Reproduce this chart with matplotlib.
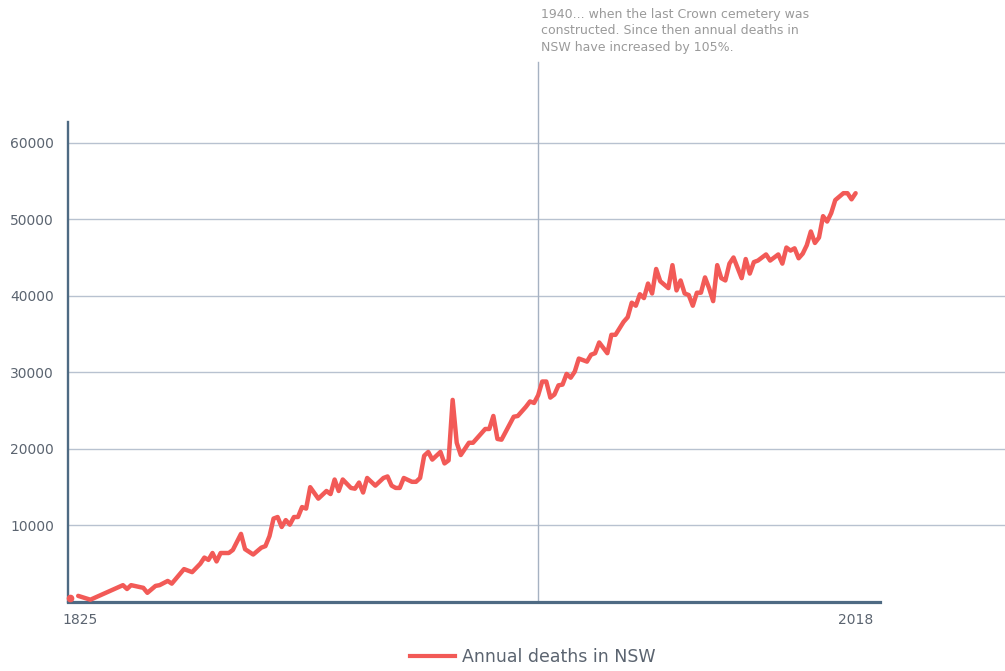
import numpy as np
import matplotlib
matplotlib.use('Agg')
import matplotlib.pyplot as plt
import matplotlib.transforms as mtransforms
from matplotlib.lines import Line2D

# Annual deaths in NSW (1826 is missing)
years = [1825, 1827, 1830, 1838, 1839, 1840, 1843, 1844, 1846, 1847, 1849, 1850,
         1853, 1855, 1857, 1858, 1859, 1860, 1861, 1862, 1864, 1865, 1867, 1868,
         1870, 1872, 1873, 1874, 1875, 1876, 1877, 1878, 1879, 1880, 1881, 1882,
         1883, 1884, 1886, 1888, 1889, 1890, 1891, 1892, 1894, 1895, 1896, 1897,
         1898, 1900, 1902, 1903, 1904, 1905, 1906, 1907, 1909, 1910, 1911, 1912,
         1913, 1914, 1916, 1917, 1918, 1919, 1920, 1921, 1923, 1924, 1926, 1927,
         1928, 1929, 1930, 1931, 1934, 1935, 1937, 1938, 1939, 1940, 1941, 1942,
         1943, 1944, 1945, 1946, 1947, 1948, 1949, 1950, 1952, 1953, 1954, 1955,
         1957, 1958, 1959, 1961, 1962, 1963, 1964, 1965, 1966, 1967, 1968, 1969,
         1970, 1972, 1973, 1974, 1975, 1976, 1977, 1978, 1979, 1980, 1981, 1982,
         1983, 1984, 1985, 1986, 1987, 1988, 1990, 1991, 1992, 1993, 1994, 1996,
         1997, 1998, 1999, 2000, 2001, 2002, 2003, 2004, 2005, 2006, 2007, 2008,
         2009, 2010, 2011, 2012, 2013, 2015, 2016, 2017, 2018]
deaths = [500, 800, 300, 2200, 1700, 2200, 1850, 1200, 2100, 2200, 2750, 2400,
          4300, 3900, 5000, 5800, 5500, 6400, 5300, 6400, 6400, 6800, 8900, 6900,
          6200, 7100, 7300, 8600, 10900, 11100, 9800, 10700, 10100, 11100, 11100, 12400,
          12200, 15000, 13500, 14500, 14100, 16000, 14500, 16000, 14900, 14800, 15600, 14300,
          16200, 15200, 16200, 16400, 15200, 14900, 14900, 16200, 15700, 15700, 16200, 19100,
          19600, 18600, 19600, 18100, 18500, 26400, 20800, 19200, 20800, 20800, 22000, 22600,
          22600, 24300, 21300, 21200, 24200, 24300, 25500, 26200, 26000, 27000, 28800, 28800,
          26700, 27100, 28300, 28400, 29800, 29300, 30100, 31800, 31400, 32300, 32500, 33900,
          32500, 34900, 34900, 36600, 37200, 39100, 38700, 40200, 39700, 41600, 40300, 43500,
          41900, 41000, 44000, 40700, 42000, 40300, 40100, 38700, 40400, 40400, 42400, 41000,
          39300, 44000, 42300, 42000, 44200, 45000, 42300, 44800, 42900, 44400, 44600, 45400,
          44600, 45000, 45400, 44200, 46300, 45900, 46200, 44900, 45500, 46600, 48400, 46900,
          47600, 50400, 49700, 50800, 52500, 53400, 53400, 52600, 53400]

y_ticks = [10000, 20000, 30000, 40000, 50000, 60000]
x_ticks = [1825, 2018]
note_year = 1940
note = ("1940... when the last Crown cemetery was\n"
        "constructed. Since then annual deaths in\n"
        "NSW have increased by 105%.")

# 1826 is missing, so the first year stands on its own
yrs = np.array(years, dtype=float)
vals = np.array(deaths, dtype=float)
yrs = np.insert(yrs, 1, 1826)
vals = np.insert(vals, 1, np.nan)

W, H = 1005, 671
fig = plt.figure(figsize=(W / 100, H / 100), dpi=100)
ax = fig.add_axes([68 / W, (H - 602) / H, 1 - 68 / W, (602 - 122) / H])

line_color = '#f25a57'
axis_color = '#4e6a83'
text_color = '#5b6470'

ax.plot(yrs, vals, color=line_color, lw=3.2, solid_joinstyle='round',
        solid_capstyle='round', zorder=3)
ax.plot(yrs[:1], vals[:1], 'o', color=line_color, ms=4.5, zorder=3, clip_on=False)

ax.set_xlim(1824.5, 2054.7)
ax.set_ylim(0, 62700)

ax.set_yticks(y_ticks)
ax.set_yticklabels([str(v) for v in y_ticks])
ax.set_xticks(x_ticks)
ax.set_xticklabels([str(v) for v in x_ticks])
ax.tick_params(length=0, labelsize=10, labelcolor=text_color)
ax.tick_params(axis='y', pad=10)
ax.tick_params(axis='x', pad=8)
first = ax.get_xticklabels()[0]
first.set_transform(first.get_transform() + mtransforms.ScaledTranslation(10 / 100, 0, fig.dpi_scale_trans))

ax.grid(axis='y', color='#b8c2d0', lw=1)
ax.set_axisbelow(True)

for s in ['top', 'right']:
    ax.spines[s].set_visible(False)
ax.spines['left'].set_color(axis_color)
ax.spines['left'].set_linewidth(1.7)
ax.spines['bottom'].set_color(axis_color)
ax.spines['bottom'].set_linewidth(2.3)
ax.spines['bottom'].set_bounds(1824.5, 2024)

# 1940 marker line and note
ax.plot([note_year, note_year], [0, 70500], color='#a6b2c2', lw=1, clip_on=False, zorder=1)
fig.text(541 / W, 1 - 8 / H, note, color='#9a9a9a', fontsize=9, va='top', ha='left',
         linespacing=1.35)

handle = Line2D([], [], color=line_color, lw=3)
fig.legend([handle], ['Annual deaths in NSW'], loc='center', bbox_to_anchor=(0.53, 1 - 657 / H),
           frameon=False, fontsize=12.5, labelcolor=text_color, handlelength=2.6,
           handletextpad=0.4)

fig.savefig('out.png', dpi=100)
